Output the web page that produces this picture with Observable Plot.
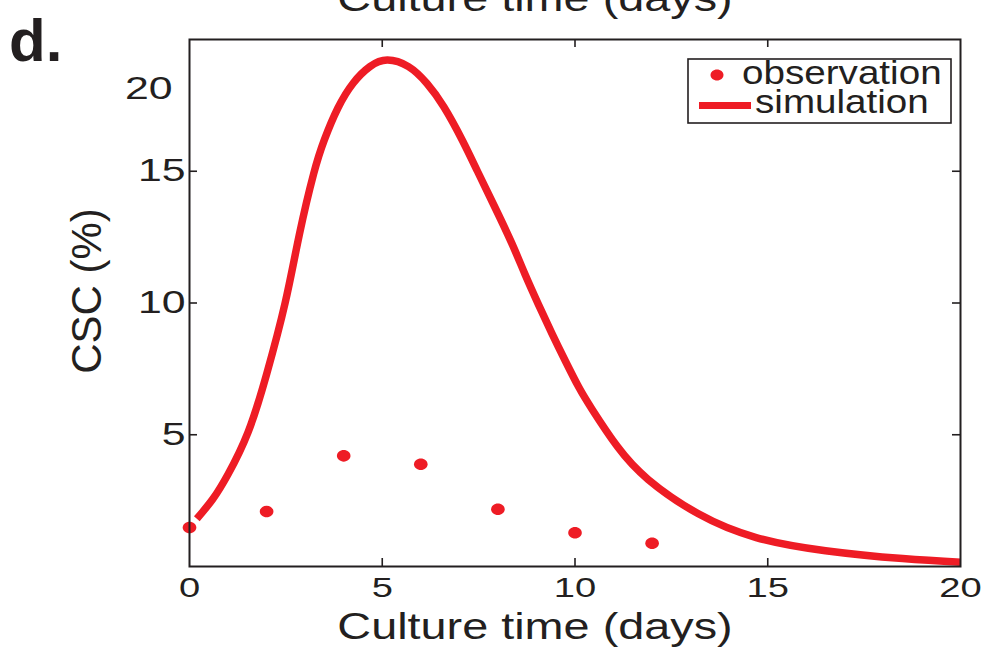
<!DOCTYPE html>
<html>
<head>
<meta charset="utf-8">
<script src="https://cdn.jsdelivr.net/npm/d3@7"></script>
<script src="https://cdn.jsdelivr.net/npm/@observablehq/plot@0.6"></script>
<style>
  html, body { margin: 0; padding: 0; background: #fff; }
  #chart { width: 990px; height: 662px; overflow: hidden; }
  svg { font-family: "Liberation Sans", Arial, Helvetica, sans-serif; }
</style>
</head>
<body>
<div id="chart"></div>
<script>
// ---- data ----
const obsDays = [0, 2, 4, 6, 8, 10, 12];
const obsCSC  = [1.48, 2.09, 4.2, 3.88, 2.17, 1.28, 0.88];

const simDays = [0.19, 0.6, 1.0, 1.52, 2.0, 2.48, 2.85, 3.22, 3.5, 3.85, 4.25, 4.68, 5.13,
                 5.68, 6.16, 6.6, 7.08, 7.47, 7.9, 8.35, 8.7, 9.05, 9.4, 9.75, 10.1, 10.45,
                 11.1, 11.9, 13.2, 14.7, 16.5, 18.5, 20];
const simCSC  = [1.81, 2.55, 3.5, 5.1, 7.3, 10.0, 12.6, 14.9, 16.2, 17.4, 18.35, 18.97, 19.22,
                 18.97, 18.33, 17.44, 16.17, 15.0, 13.7, 12.3, 11.1, 9.95, 8.85, 7.8, 6.8, 5.95,
                 4.55, 3.3, 2.0, 1.1, 0.6, 0.3, 0.16];

const xTickLabels = [0, 5, 10, 15, 20];
const yTickLabels = [5, 10, 15];
const yTopLabel = [20];
const innerTicks = [5, 10, 15];

const xLabel = "Culture time (days)";
const yLabel = "CSC (%)";
const panelLabel = "d.";
const legendNames = ["observation", "simulation"];

// ---- styles ----
const RED = "#ee1c25";
const INK = "#231f20";
const W = 990, H = 662;
const mL = 189, mR = 30, mT = 39, mB = 96;
const frameW = W - mL - mR, frameH = H - mT - mB;
const TICK = 8;

const obs = obsDays.map((d, i) => ({day: d, csc: obsCSC[i]}));
const sim = simDays.map((d, i) => ({day: d, csc: simCSC[i]}));

const ellipse = {
  draw(ctx, size) {
    const r = Math.sqrt(size / Math.PI);
    const rx = r * 1.08, ry = r * 0.92, k = 0.5523;
    ctx.moveTo(rx, 0);
    ctx.bezierCurveTo(rx, ry * k, rx * k, ry, 0, ry);
    ctx.bezierCurveTo(-rx * k, ry, -rx, ry * k, -rx, 0);
    ctx.bezierCurveTo(-rx, -ry * k, -rx * k, -ry, 0, -ry);
    ctx.bezierCurveTo(rx * k, -ry, rx, -ry * k, rx, 0);
    ctx.closePath();
  }
};

const plot = Plot.plot({
  width: W,
  height: H,
  marginLeft: mL,
  marginRight: mR,
  marginTop: mT,
  marginBottom: mB,
  style: {fontFamily: '"Liberation Sans", Arial, Helvetica, sans-serif', color: INK, background: "#fff", overflow: "hidden"},
  x: {domain: [0, 20]},
  y: {domain: [0, 20]},
  marks: [
    // inward tick marks on all four sides
    Plot.ruleX(innerTicks, {x: d => d, insetTop: frameH - TICK, stroke: INK, strokeWidth: 1.6}),
    Plot.ruleX(innerTicks, {x: d => d, insetBottom: frameH - TICK, stroke: INK, strokeWidth: 1.6}),
    Plot.ruleY(innerTicks, {y: d => d, insetRight: frameW - TICK, stroke: INK, strokeWidth: 1.6}),
    Plot.ruleY(innerTicks, {y: d => d, insetLeft: frameW - TICK, stroke: INK, strokeWidth: 1.6}),
    Plot.axisX({ticks: xTickLabels, tickSize: 0, tickPadding: 11, fontSize: 28, label: null, fill: INK}),
    Plot.axisY({ticks: yTickLabels, tickSize: 0, tickPadding: 4, fontSize: 31, label: null, fill: INK}),
    Plot.axisY({ticks: yTopLabel, tickSize: 0, tickPadding: 17, fontSize: 31, label: null, fill: INK, dy: 50}),
    Plot.line(sim, {x: "day", y: "csc", stroke: RED, strokeWidth: 7.5, curve: "natural", strokeLinecap: "butt"}),
    Plot.dot(obs, {x: "day", y: "csc", r: 6.3, fill: RED, symbol: ellipse}),
    Plot.frame({stroke: INK, strokeWidth: 2}),
    Plot.text([xLabel], {frameAnchor: "bottom", lineAnchor: "bottom", dx: -40, dy: 72, fontSize: 36, fill: INK}),
    Plot.text([xLabel], {frameAnchor: "top", lineAnchor: "bottom", dx: -40, dy: -29, fontSize: 36, fill: INK}),
    Plot.text([yLabel], {frameAnchor: "left", textAnchor: "middle", rotate: -90, dx: -102, dy: -12, fontSize: 42, fill: INK, lineAnchor: "middle"})
  ]
});

document.getElementById("chart").append(plot);
const svg = d3.select(plot);

// panel label
svg.append("text")
  .attr("x", 9).attr("y", 61).attr("text-anchor", "start")
  .attr("font-size", 60).attr("font-weight", "bold").attr("fill", INK)
  .text(panelLabel);

// legend
const lg = svg.append("g").attr("class", "legend").attr("text-anchor", "start");
lg.append("rect").attr("x", 688).attr("y", 59).attr("width", 263).attr("height", 64)
  .attr("fill", "#fff").attr("stroke", INK).attr("stroke-width", 1.6);
lg.append("path").attr("transform", "translate(717,75)")
  .attr("d", d3.symbol().type(ellipse).size(Math.PI * 6 * 6)()).attr("fill", RED);
lg.append("line").attr("x1", 699).attr("x2", 751).attr("y1", 105.5).attr("y2", 105.5)
  .attr("stroke", RED).attr("stroke-width", 7);
lg.append("text").attr("class", "lgtext").attr("x", 742).attr("y", 84).attr("font-size", 33).attr("fill", INK).text(legendNames[0]);
lg.append("text").attr("class", "lgtext").attr("x", 755).attr("y", 113).attr("font-size", 33).attr("fill", INK).text(legendNames[1]);

// horizontal stretch of glyphs, as in the reference
function stretch(sel, s) {
  sel.each(function () {
    const len = this.getComputedTextLength();
    if (len > 0) {
      this.setAttribute("textLength", (len * s).toFixed(1));
      this.setAttribute("lengthAdjust", "spacingAndGlyphs");
    }
  });
}
stretch(svg.selectAll('g[aria-label="x-axis tick label"] text'), 1.36);
stretch(svg.selectAll('g[aria-label="y-axis tick label"] text'), 1.38);
stretch(svg.selectAll("text").filter(function () { return this.textContent === xLabel; }), 1.3);
stretch(svg.selectAll("text.lgtext"), 1.17);
</script>
</body>
</html>
